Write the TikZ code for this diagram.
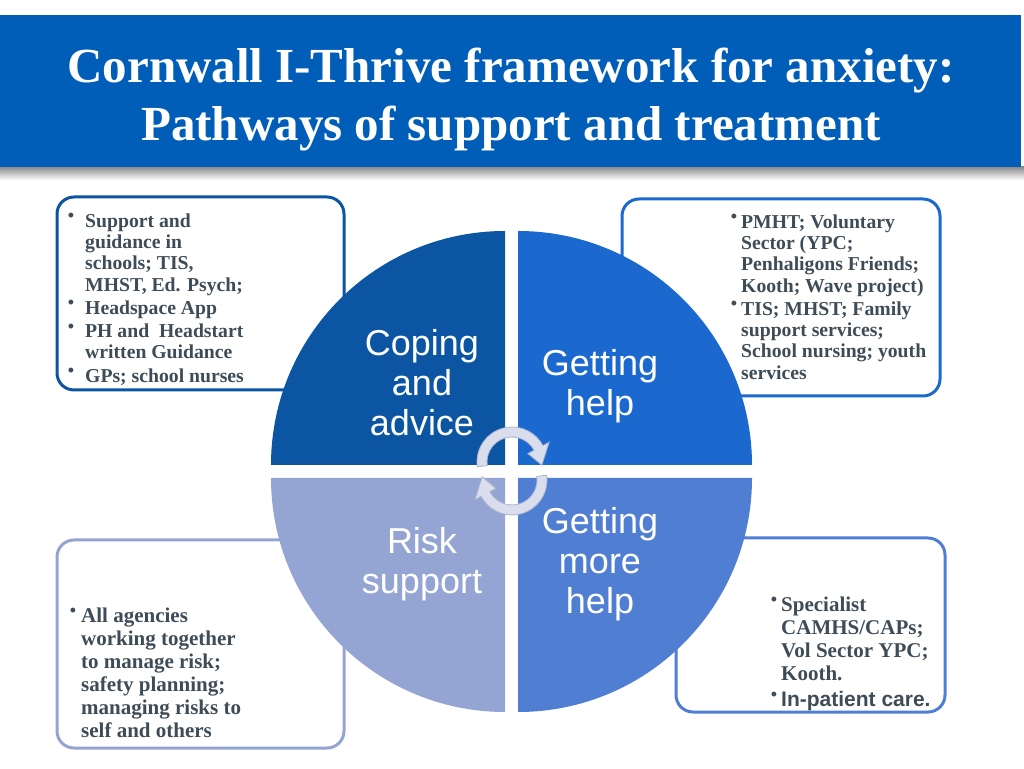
\documentclass[tikz,border=0pt]{standalone}
\usepackage{fontspec}
\setmainfont{Liberation Serif}
\newfontfamily\sansf{Liberation Sans}
\definecolor{titleblue}{HTML}{005EB8}
\definecolor{qA}{HTML}{0B55A3}
\definecolor{qB}{HTML}{1B69CF}
\definecolor{qC}{HTML}{4F7ED3}
\definecolor{qD}{HTML}{94A5D3}
\definecolor{txt}{HTML}{3E4C57}
\definecolor{arrfill}{HTML}{D9DDEC}
\definecolor{arredge}{HTML}{A9B4D4}
\newcommand\bl[1]{\llap{\raisebox{.28em}{\fontsize{18}{18}\selectfont •}\hspace{#1}}}
\begin{document}
\begin{tikzpicture}[x=1pt,y=1pt,
  box/.style={line width=3pt, rounded corners=17pt},
  qlabel/.style={text=white, font=\sansf\fontsize{36}{40}\selectfont, align=center, inner sep=0},
  btext/.style={text=txt, font=\bfseries\fontsize{19.7}{21.3}\selectfont, align=left, inner sep=0, anchor=north west},
  btextb/.style={btext, font=\bfseries\fontsize{21}{23}\selectfont},
  arrowband/.style={fill=arrfill, draw=arredge, line width=0.8pt}]
\useasboundingbox (0,0) rectangle (1024,768);
% title bar with shadow
\shade[top color=black!45, bottom color=white] (0,601) rectangle (1024,588);
\fill[titleblue] (0,601) rectangle (1021,753);
\node[text=white, font=\bfseries\fontsize{49}{58}\selectfont, align=center, inner sep=0] (title) at (511,668)
  {Cornwall I-Thrive framework for anxiety:\\Pathways of support and treatment};
% boxes
\draw[box, draw=qA] (57,378) rectangle (344,571);
\draw[box, draw=qB] (622,372) rectangle (940,569);
\draw[box, draw=qD] (57,20) rectangle (344,228);
\draw[box, draw=qC] (676,56) rectangle (945,230);
% quadrants
\fill[qA] (505,303) -- (271,303) arc[start angle=180, end angle=90, radius=234] -- cycle;
\fill[qB] (518,303) -- (518,537) arc[start angle=90, end angle=0, radius=234] -- cycle;
\fill[qC] (518,290) -- (752,290) arc[start angle=0, end angle=-90, radius=234] -- cycle;
\fill[qD] (505,290) -- (505,56) arc[start angle=270, end angle=180, radius=234] -- cycle;
% quadrant labels
\node[qlabel] (cop) at (422,385) {Coping\\and\\advice};
\node[qlabel] (get) at (600,382) {Getting\\help};
\node[qlabel] (risk) at (422,204) {Risk\\support};
\node[qlabel] (more) at (600,204) {Getting\\more\\help};
% circular arrows
\begin{scope}[shift={(512,306)}]
\filldraw[arrowband] (188:35) arc[start angle=188, end angle=28, radius=35] -- (28:42) -- (-6:30) -- (28:18)
  -- (28:25) arc[start angle=28, end angle=188, radius=25] -- cycle;
\end{scope}
\begin{scope}[shift={(512,288)}]
\filldraw[arrowband] (8:35) arc[start angle=8, end angle=-152, radius=35] -- (-152:42) -- (-186:30) -- (-152:18)
  -- (-152:25) arc[start angle=-152, end angle=8, radius=25] -- cycle;
\end{scope}
% box texts
\node[btext] (tl) at (85,555) {\bl{11pt}Support and\\guidance in\\schools; TIS,\\MHST, Ed. Psych;\\[2pt]
  \bl{11pt}Headspace App\\[2pt]\bl{11pt}PH and\ \ Headstart\\written Guidance\\[2pt]\bl{11pt}GPs; school nurses};
\node[btext] (tr) at (741,554) {\bl{4pt}PMHT; Voluntary\\Sector (YPC;\\Penhaligons Friends;\\Kooth; Wave project)\\[2pt]
  \bl{4pt}TIS; MHST; Family\\support services;\\School nursing; youth\\services};
\node[btextb] (blt) at (81,160) {\bl{5pt}All agencies\\working together\\to manage risk;\\safety planning;\\managing risks to\\self and others};
\node[btextb] (brt) at (781,171) {\bl{4pt}Specialist\\CAMHS/CAPs;\\Vol Sector YPC;\\Kooth.\\[3pt]\bl{4pt}{\sansf In-patient care.}};
\end{tikzpicture}
\end{document}
